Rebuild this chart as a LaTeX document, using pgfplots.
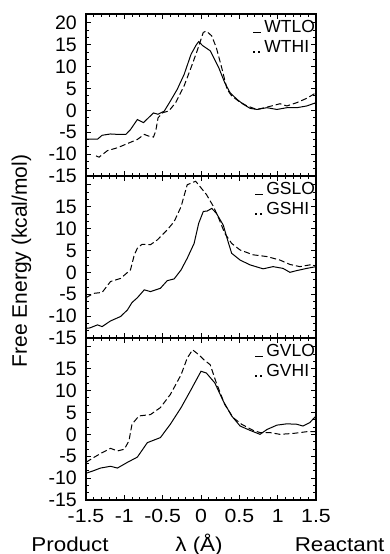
\documentclass[border=0pt]{standalone}
\usepackage{pgfplots}
\pgfplotsset{compat=1.18}
\usepackage{fontspec}
\setmainfont{Liberation Sans}[FakeStretch=1.12]
\newfontfamily\ylfont{Liberation Sans}

\pgfplotsset{
 panel/.style={
  scale only axis, width=230pt, height=162pt,
  xmin=-1.5, xmax=1.5, ymin=-15, ymax=22,
  xtick={-1.5,-1,-0.5,0,0.5,1,1.5}, minor x tick num=4,
  ytick={-15,-10,-5,0,5,10,15,20}, minor y tick num=2,
  tick align=inside, xtick pos=both, ytick pos=both,
  major tick length=5pt, minor tick length=3pt,
  axis line style={line width=1.6pt},
  every tick/.style={black, line width=0.8pt},
  /pgf/number format/assume math mode=true,
  xticklabel style={font=\fontsize{19}{19}\selectfont, anchor=north, inner sep=0pt, yshift=-9pt},
  yticklabel style={font=\ylfont\fontsize{19.5}{19.5}\selectfont, anchor=east, inner sep=0pt, xshift=-9pt},
  legend style={draw=none, fill=none, at={(axis description cs:1,1)}, anchor=north east,
    xshift=-1pt, yshift=-6pt, inner sep=0pt, outer sep=0pt, row sep=7pt, column sep=2.5pt,
    nodes={inner sep=0pt, text height=12.5pt, text depth=0pt, anchor=base west},
    font=\ylfont\fontsize{17.5}{17.5}\selectfont},
  legend cell align=left,
 },
 lo/.style={black, line width=1pt, solid,
   legend image code/.code={\draw[black,line width=1pt] (0pt,0pt)--(7.5pt,0pt);}},
 hi/.style={black, line width=1pt, dash pattern=on 6pt off 3pt,
   legend image code/.code={\draw[black,line width=1.4pt,dash pattern=on 1.5pt off 3.5pt] (0pt,0.7pt)--(8pt,0.7pt);}},
}

\begin{document}
\begin{tikzpicture}[font=\fontsize{20}{22}\selectfont]
\path[use as bounding box] (0pt,0pt) rectangle (390pt,-554pt);

\begin{axis}[panel, at={(86pt,-14pt)}, anchor=north west, xticklabels={}]
\addplot[lo] coordinates {(-1.5,-6.6) (-1.35,-6.6) (-1.29,-5.7) (-1.18,-5.4) (-1.08,-5.5) (-0.98,-5.5) (-0.92,-4.4) (-0.83,-2.1) (-0.75,-2.8) (-0.62,-0.6) (-0.56,-0.9) (-0.48,-0.2) (-0.40,2.1) (-0.31,4.8) (-0.22,8.2) (-0.13,12.8) (-0.06,15.0) (-0.03,15.7) (0.02,14.8) (0.12,13.6) (0.23,9.8) (0.31,6.3) (0.38,4.0) (0.47,2.5) (0.55,1.4) (0.64,0.45) (0.73,0.2) (0.86,0.6) (0.99,0.2) (1.12,0.6) (1.25,0.6) (1.38,1.0) (1.5,1.75)};
\addlegendentry{WTLO}
\addplot[hi] coordinates {(-1.37,-10.4) (-1.33,-10.7) (-1.22,-9.2) (-1.09,-8.55) (-0.96,-7.6) (-0.83,-6.65) (-0.74,-5.5) (-0.68,-5.9) (-0.62,-6.1) (-0.59,-4.7) (-0.56,-1.7) (-0.50,-0.55) (-0.42,-0.15) (-0.33,1.75) (-0.22,5.6) (-0.13,9.75) (-0.05,13.6) (0.03,17.8) (0.07,18.1) (0.14,17.0) (0.20,14.3) (0.27,9.75) (0.34,4.8) (0.40,3.3) (0.49,2.1) (0.60,1.0) (0.73,0.2) (0.83,0.6) (0.92,1.0) (1.03,1.5) (1.12,1.0) (1.25,1.75) (1.38,2.75) (1.5,4.0)};
\addlegendentry{WTHI}
\end{axis}

\begin{axis}[panel, at={(86pt,-176pt)}, anchor=north west, xticklabels={},
  yticklabels={-15,-10,-5,0,5,10,15,{}}]
\addplot[lo] coordinates {(-1.5,-12.8) (-1.45,-12.7) (-1.35,-12.0) (-1.29,-12.4) (-1.18,-11.1) (-1.05,-10.1) (-0.96,-8.6) (-0.90,-6.9) (-0.83,-5.8) (-0.74,-4.0) (-0.66,-4.4) (-0.53,-3.65) (-0.44,-1.9) (-0.35,-1.5) (-0.26,0.55) (-0.18,3.2) (-0.09,6.6) (-0.03,11.2) (0.03,13.9) (0.08,14.0) (0.14,14.6) (0.20,13.5) (0.29,10.8) (0.36,6.6) (0.40,4.35) (0.51,2.8) (0.64,1.7) (0.81,0.8) (0.94,1.3) (1.07,0.9) (1.16,0) (1.25,0.4) (1.38,0.9) (1.5,1.3)};
\addlegendentry{GSLO}
\addplot[hi] coordinates {(-1.5,-5.8) (-1.40,-4.8) (-1.29,-4.6) (-1.18,-2.1) (-1.05,-1.4) (-0.92,0.55) (-0.87,4.0) (-0.83,5.5) (-0.77,6.4) (-0.66,6.3) (-0.57,7.4) (-0.44,9.7) (-0.35,11.6) (-0.26,15.0) (-0.18,20.0) (-0.07,20.8) (0.07,17.8) (0.16,15.1) (0.23,12.4) (0.31,8.9) (0.40,6.6) (0.51,5.1) (0.68,4.0) (0.86,3.6) (1.03,2.8) (1.16,1.8) (1.29,1.3) (1.42,1.7) (1.5,1.5)};
\addlegendentry{GSHI}
\end{axis}

\begin{axis}[panel, at={(86pt,-338pt)}, anchor=north west,
  yticklabels={-15,-10,-5,0,5,10,15,{}}]
\addplot[lo] coordinates {(-1.5,-8.9) (-1.40,-8.3) (-1.31,-7.7) (-1.18,-7.3) (-1.09,-7.7) (-0.96,-6.4) (-0.83,-5.2) (-0.70,-1.9) (-0.53,-0.75) (-0.40,2.3) (-0.26,6.1) (-0.13,10.2) (0.0,14.4) (0.07,14.0) (0.18,11.75) (0.29,7.6) (0.40,4.2) (0.51,1.9) (0.64,0.9) (0.77,0) (0.86,1.1) (0.99,2.1) (1.12,2.4) (1.25,2.3) (1.33,1.9) (1.42,2.7) (1.5,4.2)};
\addlegendentry{GVLO}
\addplot[hi] coordinates {(-1.5,-6.4) (-1.40,-5.3) (-1.29,-4.2) (-1.18,-3.2) (-1.09,-3.8) (-1.00,-3.4) (-0.94,-1.5) (-0.90,2.3) (-0.81,4.2) (-0.66,4.5) (-0.53,6.1) (-0.40,9.1) (-0.26,13.6) (-0.18,17.4) (-0.11,19.3) (-0.03,18.2) (0.04,17.0) (0.12,15.9) (0.20,11.75) (0.31,6.8) (0.42,3.8) (0.53,2.3) (0.68,0.9) (0.77,0.4) (0.90,0.4) (1.03,0) (1.2,0.2) (1.38,0.6) (1.5,0.6)};
\addlegendentry{GVHI}
\end{axis}

\node[anchor=base] at (70pt,-551pt) {Product};
\node[anchor=base] at (199pt,-551pt) {λ (Å)};
\node[anchor=base east] at (388pt,-551pt) {Reactant};
\node[rotate=90, anchor=base, font=\ylfont\fontsize{21}{21}\selectfont] at (27pt,-261pt) {Free Energy (kcal/mol)};
\end{tikzpicture}
\end{document}
